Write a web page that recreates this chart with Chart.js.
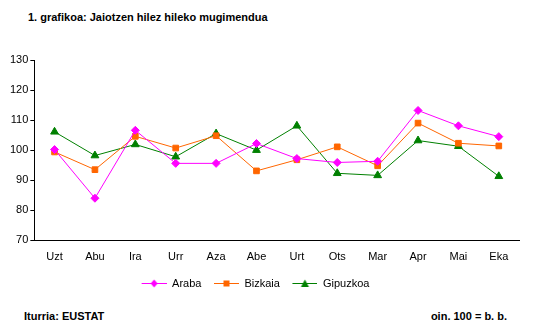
<!DOCTYPE html>
<html>
<head>
<meta charset="utf-8">
<script src="https://cdn.jsdelivr.net/npm/chart.js@4"></script>
<style>
  body { margin: 0; background: #fff; width: 539px; height: 332px; position: relative; overflow: hidden; font-family: "Liberation Sans", Arial, sans-serif; }
  #wrap { position: absolute; left: 0; top: 0; width: 539px; height: 300px; }
  .txt { position: absolute; font-size: 11px; font-weight: bold; color: #000; white-space: nowrap; }
</style>
</head>
<body>
<div class="txt" style="left:28px; top:11px;">1. grafikoa: Jaiotzen hilez hileko mugimendua</div>
<div id="wrap"><canvas id="c"></canvas></div>
<div class="txt" style="left:24px; top:310px;">Iturria: EUSTAT</div>
<div class="txt" style="right:32px; top:310px;">oin. 100 = b. b.</div>
<script>
const months = ['Uzt', 'Abu', 'Ira', 'Urr', 'Aza', 'Abe', 'Urt', 'Ots', 'Mar', 'Apr', 'Mai', 'Eka'];
const araba = [100.2, 84.0, 106.6, 95.6, 95.6, 102.2, 97.2, 95.9, 96.3, 113.2, 108.1, 104.5];
const bizkaia = [99.4, 93.5, 104.6, 100.7, 104.8, 93.1, 96.8, 101.1, 94.8, 109.0, 102.3, 101.4];
const gipuzkoa = [106.1, 98.2, 101.9, 97.8, 105.5, 100.0, 108.1, 92.3, 91.6, 103.2, 101.3, 91.3];
const yTicks = [70, 80, 90, 100, 110, 120, 130];

const pink = '#ff00ff';
const orange = '#ff6600';
const green = '#008000';

// little line + marker pictures for the legend (transparent margin on the left)
function legendIcon(color, style) {
  const cv = document.createElement('canvas');
  cv.width = 33; cv.height = 9;
  const ctx = cv.getContext('2d');
  ctx.strokeStyle = color;
  ctx.fillStyle = color;
  ctx.lineWidth = 1;
  ctx.beginPath();
  ctx.moveTo(8, 4.5); ctx.lineTo(33, 4.5);
  ctx.stroke();
  ctx.beginPath();
  const cx = 20.5;
  if (style === 'rectRot') {
    ctx.moveTo(cx, 0.5); ctx.lineTo(cx + 3.5, 4.5); ctx.lineTo(cx, 8.5); ctx.lineTo(cx - 3.5, 4.5);
  } else if (style === 'rect') {
    ctx.rect(cx - 3, 1.5, 6, 6);
  } else {
    ctx.moveTo(cx, 0.5); ctx.lineTo(cx + 4, 8); ctx.lineTo(cx - 4, 8);
  }
  ctx.closePath();
  ctx.fill();
  return cv;
}

const series = [
  { label: 'Araba', data: araba, color: pink, style: 'rectRot', r: 4 },
  { label: 'Bizkaia', data: bizkaia, color: orange, style: 'rect', r: 4 },
  { label: 'Gipuzkoa', data: gipuzkoa, color: green, style: 'triangle', r: 4.5 },
];

// legend sits a bit left of centre in the original
const shiftLegend = {
  id: 'shiftLegend',
  afterLayout(chart) {
    const lg = chart.legend;
    lg.left -= 12;
    lg.right -= 12;
  },
};

new Chart(document.getElementById('c'), {
  type: 'line',
  data: {
    labels: months,
    datasets: series.map(s => ({
      label: s.label,
      data: s.data,
      borderColor: s.color,
      backgroundColor: s.color,
      borderWidth: 1,
      pointStyle: s.style,
      pointRadius: s.r,
      pointBorderWidth: 1,
      tension: 0,
      fill: false,
    })),
  },
  plugins: [shiftLegend],
  options: {
    responsive: true,
    maintainAspectRatio: false,
    animation: false,
    devicePixelRatio: 1,
    layout: { padding: { left: 8, right: 20, top: 60, bottom: 1 } },
    plugins: {
      title: { display: false },
      tooltip: { enabled: false },
      legend: {
        position: 'bottom',
        labels: {
          usePointStyle: true,
          pointStyleWidth: 33,
          boxHeight: 9,
          padding: 4.5,
          color: '#000',
          font: { family: 'Liberation Sans', size: 11 },
          generateLabels: chart => series.map((s, i) => ({
            text: s.label,
            pointStyle: legendIcon(s.color, s.style),
            fillStyle: s.color,
            strokeStyle: s.color,
            lineWidth: 0,
            datasetIndex: i,
            hidden: false,
          })),
        },
      },
    },
    scales: {
      x: {
        offset: true,
        grid: { display: true, drawOnChartArea: false, drawTicks: false },
        border: { display: true, color: '#000', width: 1 },
        ticks: { color: '#000', padding: 10, font: { family: 'Liberation Sans', size: 11 }, maxRotation: 0 },
      },
      y: {
        min: 70,
        max: 130,
        afterBuildTicks: axis => { axis.ticks = yTicks.map(v => ({ value: v })); },
        grid: { display: true, drawOnChartArea: false, drawTicks: true, tickLength: 4, color: '#000' },
        border: { display: true, color: '#000', width: 1 },
        ticks: { color: '#000', padding: 2, font: { family: 'Liberation Sans', size: 11 } },
      },
    },
  },
});
</script>
</body>
</html>
